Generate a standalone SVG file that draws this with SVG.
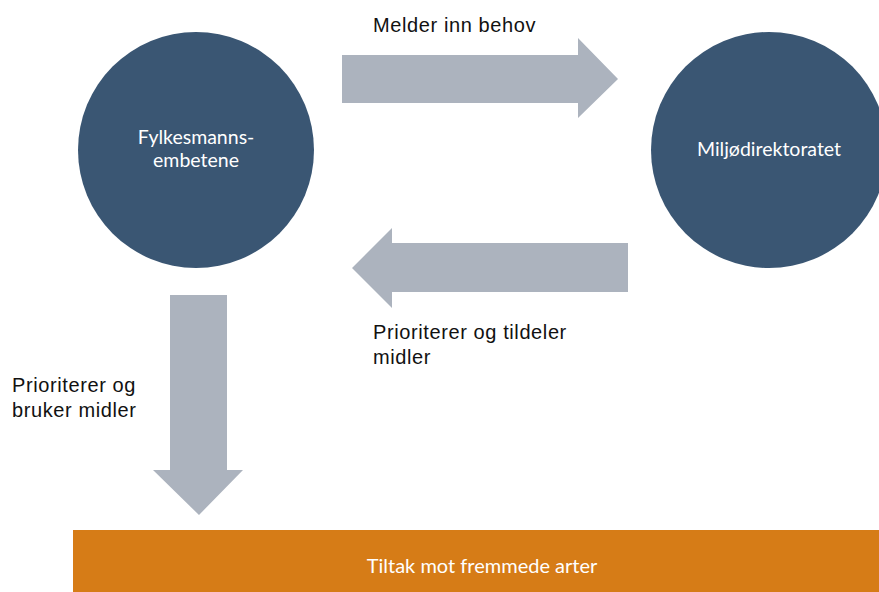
<svg xmlns="http://www.w3.org/2000/svg" width="879" height="592" viewBox="0 0 879 592">
<style>
.node{fill:#3A5673}
.arrow{fill:#ACB3BE}
.nl{font-family:Lato,"Open Sans",sans-serif;font-size:19.5px;fill:#FFFFFF;text-anchor:middle}
.el{font-family:"Liberation Sans",Arial,sans-serif;font-size:20px;letter-spacing:0.6px;fill:#111111}
</style>
<rect width="879" height="592" fill="#FFFFFF"/>
<g id="connectors">
<polygon class="arrow" points="342,55 578,55 578,38 618,79 578,118 578,103 342,103"/>
<polygon class="arrow" points="628,243 392,243 392,228 352,268 392,308 392,292 628,292"/>
<polygon class="arrow" points="170,295 227,295 227,470 243,470 199,515 153,470 170,470"/>
<text class="el" x="373" y="32">Melder inn behov</text>
<text class="el" x="373" y="339">Prioriterer og tildeler</text>
<text class="el" x="373" y="364">midler</text>
<text class="el" x="12" y="392">Prioriterer og</text>
<text class="el" x="12" y="417">bruker midler</text>
</g>
<g id="fylkesmannsembetene">
<circle class="node" cx="196" cy="150" r="118"/>
<text class="nl" x="196" y="144">Fylkesmanns-</text>
<text class="nl" x="196" y="167">embetene</text>
</g>
<g id="miljodirektoratet">
<circle class="node" cx="769" cy="150" r="118"/>
<text class="nl" x="769" y="156">Miljødirektoratet</text>
</g>
<g id="tiltak">
<rect x="73" y="530" width="806" height="62" fill="#D67C17"/>
<text class="nl" x="482" y="573" style="font-size:20px">Tiltak mot fremmede arter</text>
</g>
</svg>
